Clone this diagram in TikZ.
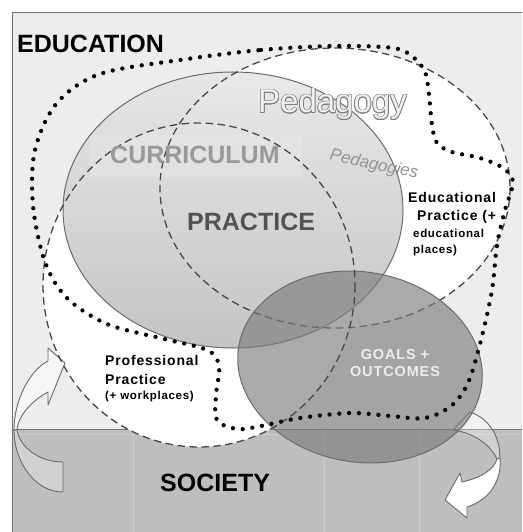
\documentclass[tikz,border=0pt]{standalone}
\usepackage{fontspec}
\setmainfont{Liberation Sans}
\newfontfamily\spacedfont[LetterSpace=6]{Liberation Sans}
\usepackage{contour}
\contourlength{0.7pt}
\usetikzlibrary{positioning}
\definecolor{edubg}{HTML}{EDEDED}
\definecolor{socbg}{HTML}{BEBEBE}
\tikzset{
  framebox/.style={draw=black!55, line width=0.8pt},
  gridline/.style={draw=white, opacity=0.2, line width=0.8pt},
  dashring/.style={draw=black!72, line width=1.3pt, dash pattern=on 7.5pt off 4.5pt},
  dotring/.style={draw=black, line width=4.3pt, line cap=round, dash pattern=on 0pt off 9.8pt},
  solidrim/.style={draw=black!58, line width=1pt},
  bigfill/.style={top color=black!10, bottom color=black!27, opacity=0.85},
  goalfill/.style={fill=black!51, fill opacity=0.65},
  bandarrow/.style={draw=black!58, line width=0.9pt, line join=round},
  biglabel/.style={inner sep=0pt, anchor=base west, font=\fontsize{25}{25}\selectfont\bfseries},
  smalllabel/.style={inner sep=0pt, anchor=base west},
}

\begin{document}
\begin{tikzpicture}[x=1pt,y=-1pt]
    \useasboundingbox (0,0) rectangle (522,532);

    % Hintergrund
    \fill[edubg] (12,12) rectangle (522,429);
    \fill[socbg] (12,429) rectangle (522,532);
    \draw[gridline] (133,429) -- (133,532);
    \draw[gridline] (324,272) -- (324,532);
    \draw[gridline] (419,272) -- (419,532);
    \draw[gridline] (12,434) -- (522,434);
    \draw[framebox] (12,532) -- (12,12) -- (522,12);
    \draw[framebox] (12,429) -- (522,429);

    % Praxisfelder (weiss)
    \fill[white] (335,188) ellipse [x radius=175, y radius=140];
    \fill[white] (199,285) ellipse [x radius=156, y radius=162];

    % Curriculum-Ellipse
    \shade[bigfill] (233,210) ellipse [x radius=170, y radius=138];
    \fill[white, opacity=0.15] (90,135) rectangle (302,177);
    \draw[solidrim] (233,210) ellipse [x radius=170, y radius=138];
    \draw[dashring] (335,188) ellipse [x radius=175, y radius=140];

    % Pfeile
    \filldraw[bandarrow, fill=white, fill opacity=0.55]
        (14,430) .. controls (14,400) and (30,370) .. (48,361)
        -- (48,348) -- (65,363) -- (48,405) -- (48,392)
        .. controls (33,400) and (18,415) .. (17,430) -- cycle;
    \filldraw[bandarrow, fill=white, fill opacity=0.3]
        (14,430) .. controls (14,462) and (35,492) .. (63,492)
        -- (63,462) .. controls (40,462) and (20,448) .. (17,430) -- cycle;
    \filldraw[bandarrow, fill=white, fill opacity=0.3]
        (470,412) .. controls (488,418) and (500,435) .. (500,458)
        -- (497,459) .. controls (490,445) and (475,433) .. (453,430) -- cycle;
    \filldraw[bandarrow, fill=white]
        (500,458) .. controls (502,480) and (490,500) .. (467,507)
        -- (467,518) -- (445,500) -- (460,473) -- (462,482)
        .. controls (480,478) and (494,470) .. (497,459) -- cycle;

    % Ziele
    \begin{scope}[rotate around={-10:(360,367)}]
        \fill[goalfill] (360,367) ellipse [x radius=123, y radius=95];
        \draw[solidrim] (360,367) ellipse [x radius=123, y radius=95];
    \end{scope}
    \draw[dashring] (199,285) ellipse [x radius=156, y radius=162];

    % Bildungsgrenze
    \draw[dotring] plot[smooth cycle, tension=0.55] coordinates {
        (180,60) (261,50) (335,46) (393,48) (413,57) (425,72) (429,95)
        (432,125) (437,143) (452,152) (480,158) (503,168) (513,182)
        (505,210) (497,245) (492,290) (481,340) (468,383) (451,406)
        (425,418) (390,416) (351,413) (300,418) (261,426) (237,429)
        (217,420) (216,395) (219,366) (207,350) (160,338) (107,324)
        (67,298) (45,262) (33,205) (35,150) (57,103) (100,74)};

    % Texte
    \node[biglabel] (edu) at (17,53) {EDUCATION};
    \node[biglabel] (soc) at (160,491) {SOCIETY};
    \node[biglabel, text=black!40] (curr) at (110,163) {CURRICULUM};
    \node[biglabel, text=black!68] (prac) at (187,230) {PRACTICE};
    \node[smalllabel, text=white!94!black,
          font=\fontsize{33}{33}\selectfont] (peda) at (258,113) {\contour{black!50}{Pedagogy}};
    \node[inner sep=0pt, rotate=-12, text=black!42,
          font=\fontsize{17}{17}\selectfont\itshape] (pedas) at (374,165) {Pedagogies};

    \node[smalllabel, font=\spacedfont\fontsize{14}{14}\selectfont\bfseries] (edp1) at (408,202) {Educational};
    \node[smalllabel, font=\spacedfont\fontsize{14}{14}\selectfont\bfseries] (edp2) at (417,220) {Practice (+};
    \node[smalllabel, font=\spacedfont\fontsize{11.5}{11.5}\selectfont\bfseries] (edp3) at (413,237) {educational};
    \node[smalllabel, font=\spacedfont\fontsize{11.5}{11.5}\selectfont\bfseries] (edp4) at (413,253) {places)};

    \node[smalllabel, font=\spacedfont\fontsize{14}{14}\selectfont\bfseries] (prp1) at (105,365) {Professional};
    \node[smalllabel, font=\spacedfont\fontsize{14}{14}\selectfont\bfseries] (prp2) at (105,384) {Practice};
    \node[smalllabel, font=\spacedfont\fontsize{11.5}{11.5}\selectfont\bfseries] (prp3) at (105,399) {(+ workplaces)};

    \node[inner sep=0pt, anchor=base, text=white!93!black,
          font=\spacedfont\fontsize{14.5}{14.5}\selectfont\bfseries] (goal1) at (395,359) {GOALS +};
    \node[inner sep=0pt, anchor=base, text=white!93!black,
          font=\spacedfont\fontsize{14.5}{14.5}\selectfont\bfseries] (goal2) at (395,376) {OUTCOMES};
\end{tikzpicture}
\end{document}
